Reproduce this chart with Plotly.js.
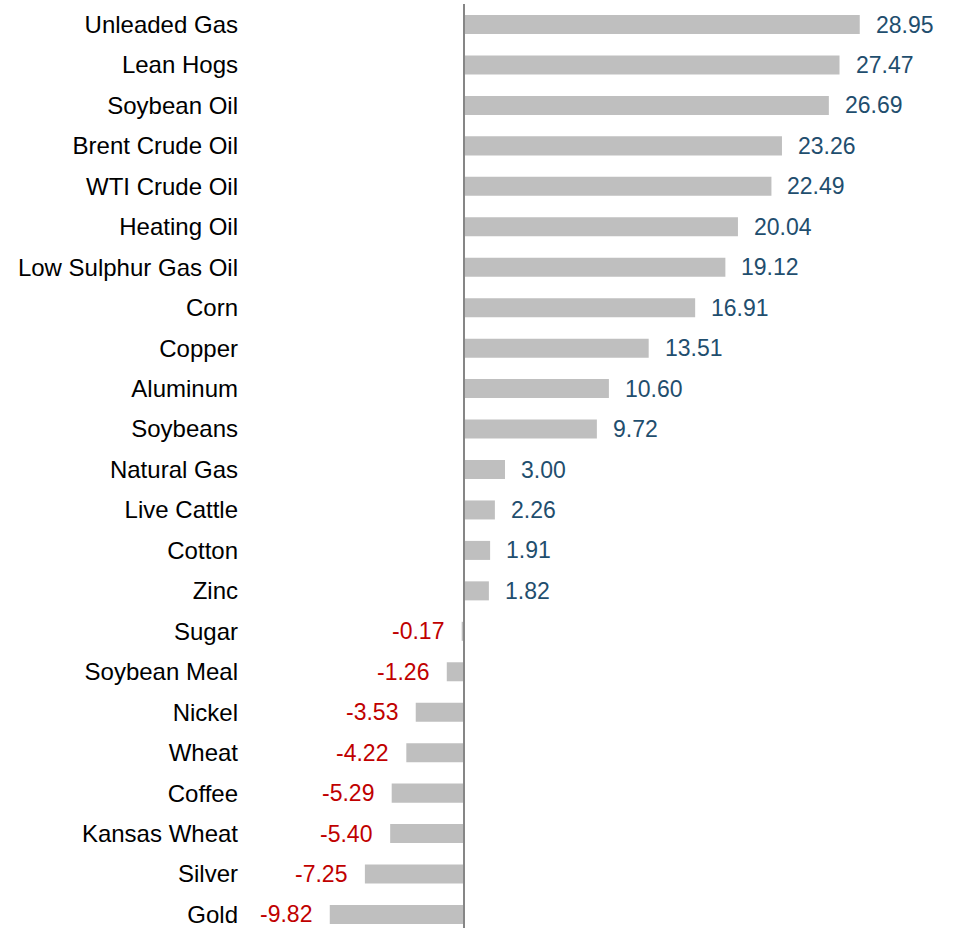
<!DOCTYPE html>
<html>
<head>
<meta charset="utf-8">
<script src="https://cdn.plot.ly/plotly-3.0.1.min.js"></script>
<style>html,body{margin:0;padding:0;background:#fff;}#chart{width:954px;height:928px;}</style>
</head>
<body>
<div id="chart"></div>
<script>
const categories = ["Unleaded Gas","Lean Hogs","Soybean Oil","Brent Crude Oil","WTI Crude Oil","Heating Oil","Low Sulphur Gas Oil","Corn","Copper","Aluminum","Soybeans","Natural Gas","Live Cattle","Cotton","Zinc","Sugar","Soybean Meal","Nickel","Wheat","Coffee","Kansas Wheat","Silver","Gold"];
const values = [28.95,27.47,26.69,23.26,22.49,20.04,19.12,16.91,13.51,10.60,9.72,3.00,2.26,1.91,1.82,-0.17,-1.26,-3.53,-4.22,-5.29,-5.40,-7.25,-9.82];

const posColor = "#1f4e6e";
const negColor = "#c00000";
const fontFam = "Liberation Sans, Arial, sans-serif";

const annotations = values.map((v, i) => ({
  x: v, y: categories[i], xref: "x", yref: "y",
  text: v.toFixed(2),
  showarrow: false,
  xanchor: v >= 0 ? "left" : "right",
  xshift: v >= 0 ? 14 : -16,
  font: {family: fontFam, size: 23, color: v >= 0 ? posColor : negColor}
}));

const pxPerUnit = 13.67, zeroPx = 464, ml = 239;
const data = [{
  type: "bar", orientation: "h",
  x: values, y: categories,
  marker: {color: "#bfbfbf"},
  width: 0.47,
  hoverinfo: "none"
}];

const layout = {
  width: 954, height: 928,
  margin: {l: ml, r: 0, t: 4, b: 0},
  paper_bgcolor: "#fff", plot_bgcolor: "#fff",
  showlegend: false,
  font: {family: fontFam, size: 23, color: "#000"},
  xaxis: {
    range: [-(zeroPx - ml) / pxPerUnit, (954 - zeroPx) / pxPerUnit],
    showgrid: false, zeroline: false, showticklabels: false, ticks: ""
  },
  yaxis: {
    type: "category",
    range: [22.334, -0.507],
    showgrid: false, zeroline: false, ticks: "", showline: false,
    tickfont: {family: fontFam, size: 24, color: "#000"}
  },
  shapes: [{
    type: "line", xref: "x", yref: "paper",
    x0: 0, x1: 0, y0: 0, y1: 1,
    line: {color: "#868686", width: 2}
  }],
  annotations: annotations
};

Plotly.newPlot("chart", data, layout, {staticPlot: true, displayModeBar: false});
</script>
</body>
</html>
